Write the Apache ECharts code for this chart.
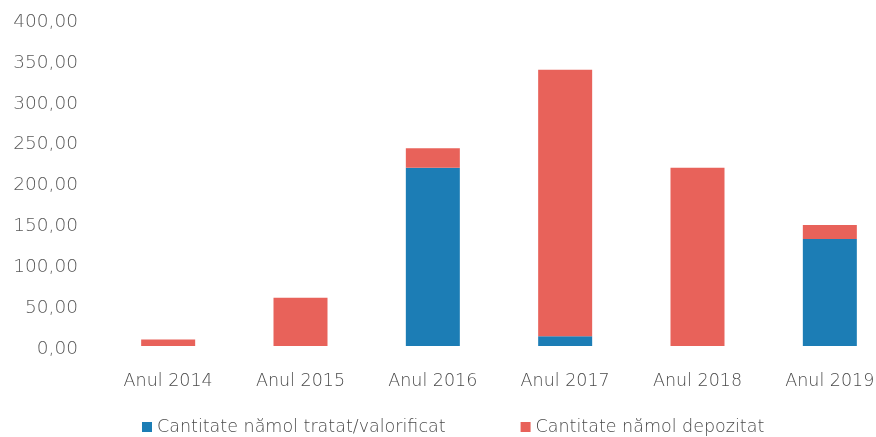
<!DOCTYPE html>
<html><head><meta charset="utf-8">
<script src="https://cdn.jsdelivr.net/npm/echarts@6/dist/echarts.min.js"></script>
<style>html,body{margin:0;padding:0;background:#fff}#c{width:876px;height:437px}</style>
</head><body><div id="c"></div>
<script>
const categories = ['Anul 2014','Anul 2015','Anul 2016','Anul 2017','Anul 2018','Anul 2019'];
const treated = [0, 0, 218, 12, 0, 131];
const deposited = [8, 59, 24, 326, 218, 17];
const seriesNames = ['Cantitate nămol tratat/valorificat','Cantitate nămol depozitat'];
const yTicks = {min: 0, max: 400, interval: 50};

const chart = echarts.init(document.getElementById('c'), null, {renderer: 'canvas'});
const font = 'DejaVu Sans';
chart.setOption({
  animation: false,
  backgroundColor: '#fff',
  grid: {left: 102, top: 19, width: 794, height: 327, containLabel: false, outerBoundsMode: 'none'},
  legend: {
    left: 142, top: 418, itemWidth: 10, itemHeight: 10, itemGap: 75, icon: 'rect',
    padding: 0,
    textStyle: {fontFamily: font, fontSize: 17.5, fontWeight: 300, color: '#4a4a4a'},
    data: seriesNames
  },
  xAxis: {
    type: 'category', data: categories,
    axisLine: {show: false}, axisTick: {show: false},
    axisLabel: {fontFamily: font, fontSize: 17.5, fontWeight: 300, color: '#4a4a4a', margin: 26}
  },
  yAxis: {
    type: 'value', min: yTicks.min, max: yTicks.max, interval: yTicks.interval,
    splitLine: {show: false}, axisLine: {show: false}, axisTick: {show: false},
    axisLabel: {fontFamily: font, fontSize: 18.5, fontWeight: 300, color: '#5a5a5a', margin: 24,
      verticalAlign: 'top', lineHeight: 6,
      formatter: v => v.toFixed(2).replace('.', ',')}
  },
  series: [
    {name: seriesNames[0], type: 'bar', stack: 's', data: treated, barWidth: 54,
     itemStyle: {color: '#1c7db5'}},
    {name: seriesNames[1], type: 'bar', stack: 's', data: deposited, barWidth: 54,
     itemStyle: {color: '#e8625a'}}
  ]
});
</script></body></html>
